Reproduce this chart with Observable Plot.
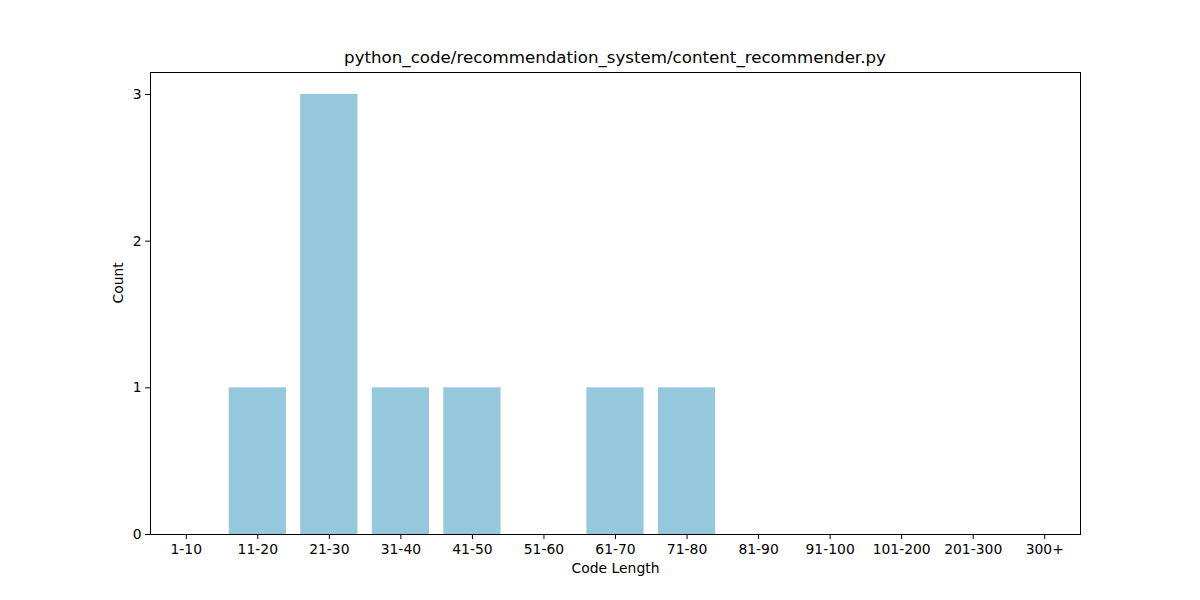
<!DOCTYPE html>
<html>
<head>
<meta charset="utf-8">
<script src="https://cdn.jsdelivr.net/npm/d3@7"></script>
<script src="https://cdn.jsdelivr.net/npm/@observablehq/plot@0.6"></script>
<style>
  body { margin: 0; background: #fff; font-family: "DejaVu Sans", sans-serif; }
  #title { height: 68px; box-sizing: border-box; padding-top: 48px; padding-left: 150px; width: 1080px; text-align: center; font-size: 16.67px; line-height: 20px; color: #000; white-space: nowrap; }
</style>
</head>
<body>
<div id="title">python_code/recommendation_system/content_recommender.py</div>
<div id="chart"></div>
<script>
const categories = ["1-10","11-20","21-30","31-40","41-50","51-60","61-70","71-80","81-90","91-100","101-200","201-300","300+"];
const counts = [0,1,3,1,1,0,1,1,0,0,0,0,0];
const yTicks = [0,1,2,3];

const data = categories.map((c, i) => ({bin: c, count: counts[i]}));

const chart = Plot.plot({
  width: 1200,
  height: 532,
  marginLeft: 150,
  marginRight: 120,
  marginTop: 4,
  marginBottom: 66,
  style: {fontFamily: "DejaVu Sans, sans-serif", fontSize: "13.9px", color: "#000", background: "#fff"},
  x: {type: "band", domain: categories, paddingInner: 0.2, paddingOuter: 0.1, round: false},
  y: {domain: [0, 3.15]},
  marks: [
    Plot.barY(data, {x: "bin", y: "count", fill: "#96c8dd"}),
    Plot.frame({stroke: "#000", strokeWidth: 1}),
    Plot.axisX({tickSize: 5, tickPadding: 5, label: null, fontSize: 13.9}),
    Plot.axisY({ticks: yTicks, tickSize: 5, tickPadding: 4, label: null, tickFormat: d3.format("d"), fontSize: 13.9}),
    Plot.text(["Count"], {frameAnchor: "left", dx: -32, rotate: -90, fontSize: 13.9, fill: "#000"}),
    Plot.text(["Code Length"], {frameAnchor: "bottom", dy: 38, fontSize: 13.9, fill: "#000"})
  ]
});
document.getElementById("chart").appendChild(chart);
</script>
</body>
</html>
